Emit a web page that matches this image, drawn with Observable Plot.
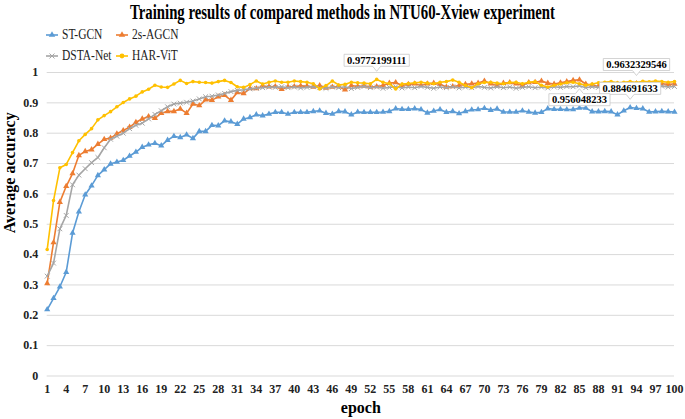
<!DOCTYPE html>
<html><head><meta charset="utf-8">
<script src="https://cdn.jsdelivr.net/npm/d3@7"></script>
<script src="https://cdn.jsdelivr.net/npm/@observablehq/plot@0.6"></script>
<style>
body{margin:0;background:#fff}
#wrap{position:relative;width:685px;height:419px;font-family:"Liberation Serif","Times New Roman",serif}
#chart{position:absolute;left:0;top:0}
#title{position:absolute;left:0;top:1px;width:685px;text-align:center;font-weight:bold;font-size:20px;white-space:nowrap;color:#000}
#title span{display:inline-block;transform-origin:center}
.leg{position:absolute;display:flex;align-items:center;font-size:14px;color:#222;white-space:nowrap}
.leg span{display:inline-block;transform:scaleX(0.82);transform-origin:left center;margin-left:3px}
</style></head>
<body>
<div id="wrap"><div id="chart"></div><div id="title"><span></span></div><div id="legend"></div></div>
<script>
const titleText = "Training results of compared methods in NTU60-Xview experiment";
const xLabel = "epoch";
const yLabel = "Average accuracy";
const seriesNames = ["ST-GCN", "2s-AGCN", "DSTA-Net", "HAR-ViT"];
const seriesColors = ["#5B9BD5", "#ED7D31", "#A5A5A5", "#FFC000"];
const seriesSymbols = ["triangle", "triangle", "times", "circle"];
const epochs = d3.range(1, 101);
const stgcn = [0.219,0.256,0.294,0.342,0.471,0.541,0.597,0.627,0.661,0.680,
0.699,0.705,0.711,0.725,0.738,0.754,0.762,0.767,0.759,0.777,
0.790,0.786,0.795,0.783,0.806,0.806,0.826,0.825,0.841,0.838,
0.830,0.847,0.852,0.861,0.858,0.863,0.869,0.869,0.863,0.869,
0.869,0.869,0.872,0.874,0.866,0.863,0.872,0.871,0.861,0.870,
0.869,0.869,0.869,0.870,0.872,0.881,0.879,0.879,0.881,0.878,
0.867,0.873,0.878,0.869,0.872,0.865,0.872,0.877,0.878,0.882,
0.876,0.880,0.870,0.870,0.870,0.874,0.870,0.867,0.869,0.881,
0.879,0.879,0.878,0.878,0.883,0.883,0.871,0.871,0.872,0.871,
0.861,0.874,0.884691633,0.882,0.881,0.870,0.871,0.872,0.871,0.870];
const agcn = [0.305,0.440,0.573,0.625,0.667,0.727,0.740,0.746,0.764,0.780,
0.784,0.798,0.809,0.820,0.836,0.847,0.855,0.849,0.866,0.872,
0.872,0.880,0.866,0.896,0.891,0.910,0.909,0.920,0.925,0.909,
0.934,0.931,0.947,0.947,0.955,0.953,0.954,0.945,0.953,0.954,
0.956,0.955,0.952,0.957,0.949,0.952,0.954,0.943,0.957,0.954,
0.956,0.952,0.954,0.957,0.965,0.967,0.957,0.961,0.963,0.958,
0.963,0.965,0.961,0.952,0.954,0.957,0.961,0.963,0.965,0.972,
0.963,0.957,0.965,0.967,0.963,0.958,0.967,0.968,0.972,0.965,
0.962,0.966,0.970,0.974,0.976,0.962,0.958,0.955,0.958,0.960,
0.962,0.958,0.960,0.9632329546,0.958,0.962,0.960,0.963,0.961,0.962];
const dsta = [0.329,0.372,0.485,0.529,0.630,0.662,0.683,0.703,0.720,0.752,
0.780,0.790,0.800,0.815,0.826,0.833,0.847,0.862,0.874,0.887,
0.896,0.899,0.902,0.906,0.913,0.920,0.922,0.926,0.931,0.937,
0.941,0.943,0.946,0.948,0.950,0.952,0.951,0.953,0.950,0.952,
0.949,0.951,0.953,0.950,0.948,0.952,0.950,0.953,0.947,0.951,
0.954,0.950,0.952,0.948,0.951,0.953,0.949,0.952,0.950,0.954,
0.951,0.948,0.952,0.950,0.953,0.949,0.952,0.950,0.954,0.951,
0.949,0.953,0.950,0.952,0.948,0.951,0.953,0.950,0.952,0.949,
0.953,0.951,0.954,0.953,0.956048233,0.950,0.953,0.951,0.954,0.952,
0.950,0.953,0.951,0.954,0.952,0.950,0.953,0.955,0.952,0.954];
const harvit = [0.417,0.578,0.686,0.697,0.736,0.775,0.796,0.815,0.844,0.858,
0.871,0.887,0.901,0.913,0.922,0.936,0.945,0.958,0.952,0.951,
0.962,0.974,0.964,0.970,0.968,0.967,0.965,0.970,0.974,0.967,
0.953,0.951,0.960,0.972,0.962,0.968,0.972,0.968,0.968,0.972,
0.970,0.968,0.963,0.946,0.957,0.972,0.959,0.961,0.968,0.966,
0.965,0.963,0.9772199111,0.968,0.963,0.946,0.962,0.964,0.966,0.968,
0.965,0.963,0.968,0.970,0.975,0.968,0.957,0.950,0.963,0.967,
0.968,0.965,0.963,0.967,0.968,0.963,0.968,0.970,0.958,0.952,
0.958,0.962,0.966,0.968,0.963,0.958,0.962,0.966,0.968,0.970,
0.966,0.968,0.970,0.967,0.971,0.969,0.972,0.970,0.968,0.970];
const seriesValues = [stgcn, agcn, dsta, harvit];
const xTicks = d3.range(1, 101, 3);
const yTicks = d3.range(0, 11).map(i => i / 10);
// callouts: series index, epoch, label text, side
const calloutSeries = [3, 1, 2, 0];
const calloutEpochs = [53, 94, 85, 93];
const calloutLabels = ["0.9772199111", "0.9632329546", "0.956048233", "0.884691633"];
const calloutSides = ["above", "above", "below", "above"];

const rows = seriesNames.flatMap((s, k) => epochs.map((e, i) => ({series: s, epoch: e, value: seriesValues[k][i]})));
const callouts = calloutLabels.map((t, i) => ({
  label: t, epoch: calloutEpochs[i], side: calloutSides[i],
  value: seriesValues[calloutSeries[i]][calloutEpochs[i] - 1]
}));

const marks = [Plot.ruleY(yTicks, {stroke: "#d9d9d9", strokeWidth: 1})];
seriesNames.forEach((s, k) => {
  const d = rows.filter(r => r.series === s);
  marks.push(Plot.line(d, {x: "epoch", y: "value", stroke: seriesColors[k], strokeWidth: 1.6}));
  const sym = seriesSymbols[k];
  marks.push(Plot.dot(d, sym === "times"
    ? {x: "epoch", y: "value", symbol: sym, r: 2.3, stroke: seriesColors[k], strokeWidth: 1}
    : {x: "epoch", y: "value", symbol: sym, r: sym === "circle" ? 1.8 : 2.3, fill: seriesColors[k], stroke: "none"}));
});
marks.push(Plot.text(callouts.filter(c => c.side === "above"), {x: "epoch", y: "value", text: "label", dy: -19, fontSize: 10.5, fill: "#000"}));
marks.push(Plot.text(callouts.filter(c => c.side === "below"), {x: "epoch", y: "value", text: "label", dy: 14, fontSize: 10.5, fill: "#000"}));
marks.push(Plot.text([yLabel], {frameAnchor: "left", rotate: -90, dx: -37, dy: 9, fontSize: 16, fill: "#000"}));
marks.push(Plot.text([xLabel], {frameAnchor: "bottom", lineAnchor: "middle", dy: 32, fontSize: 16, fill: "#000"}));

const chart = Plot.plot({
  width: 685, height: 419,
  marginTop: 72, marginBottom: 43.5, marginLeft: 46.7, marginRight: 11,
  style: {fontFamily: "'Liberation Serif', 'Times New Roman', serif", fontSize: "12px", fontWeight: "bold", color: "#222", background: "transparent"},
  x: {domain: [1, 100], ticks: xTicks, tickSize: 0, tickPadding: 8, label: null, tickFormat: d => String(d)},
  y: {domain: [0, 1], ticks: yTicks, tickSize: 0, tickPadding: 9, label: null, tickFormat: d => d === 0 ? "0" : d === 1 ? "1" : d.toFixed(1)},
  marks
});
document.getElementById("chart").appendChild(chart);

// callout bubbles drawn behind their label texts
const svgRect = chart.getBoundingClientRect();
chart.querySelectorAll("text").forEach(t => {
  const i = calloutLabels.indexOf(t.textContent);
  if (i < 0) return;
  const g = t.parentNode;
  let bg = g.previousSibling;
  if (!bg || !bg.classList || !bg.classList.contains("bubbles")) {
    bg = document.createElementNS("http://www.w3.org/2000/svg", "g");
    bg.setAttribute("class", "bubbles");
    g.parentNode.insertBefore(bg, g);
  }
  const r = t.getBoundingClientRect();
  const l = r.left - svgRect.left - 3, rr = r.right - svgRect.left + 3;
  const tp = r.top - svgRect.top - 0.5, b = r.bottom - svgRect.top + 0.5;
  const cx = (l + rr) / 2;
  const p = calloutSides[i] === "above"
    ? `M${l},${tp}H${rr}V${b}H${cx + 4}L${cx},${b + 5}L${cx - 4},${b}H${l}Z`
    : `M${l},${tp}H${cx - 4}L${cx},${tp - 5}L${cx + 4},${tp}H${rr}V${b}H${l}Z`;
  d3.select(bg).append("path").attr("d", p).attr("fill", "#fff").attr("stroke", "#c8c8c8").attr("stroke-width", 0.8);
});

// title
const ts = document.querySelector("#title span");
ts.textContent = titleText;
const tw = ts.getBoundingClientRect().width;
ts.style.transform = `scaleX(${425 / tw})`;

// legend
const legendX = [45, 115];
const legendY = [35, 56];
const legend = document.getElementById("legend");
seriesNames.forEach((s, k) => {
  const div = document.createElement("div");
  div.className = "leg";
  div.style.left = legendX[k % 2] + "px";
  div.style.top = (legendY[Math.floor(k / 2)] - 9) + "px";
  div.style.height = "18px";
  const sv = d3.create("svg").attr("width", 14).attr("height", 10);
  sv.append("line").attr("x1", 1).attr("x2", 13).attr("y1", 5).attr("y2", 5).attr("stroke", seriesColors[k]).attr("stroke-width", 1.6);
  const sym = d3.symbol(seriesSymbols[k] === "times" ? d3.symbolTimes : seriesSymbols[k] === "triangle" ? d3.symbolTriangle : d3.symbolCircle, 18)();
  sv.append("path").attr("d", sym).attr("transform", "translate(7,5)")
    .attr("fill", seriesSymbols[k] === "times" ? "none" : seriesColors[k])
    .attr("stroke", seriesSymbols[k] === "times" ? seriesColors[k] : "none");
  div.appendChild(sv.node());
  const sp = document.createElement("span");
  sp.textContent = s;
  div.appendChild(sp);
  legend.appendChild(div);
});
</script>
</body></html>
